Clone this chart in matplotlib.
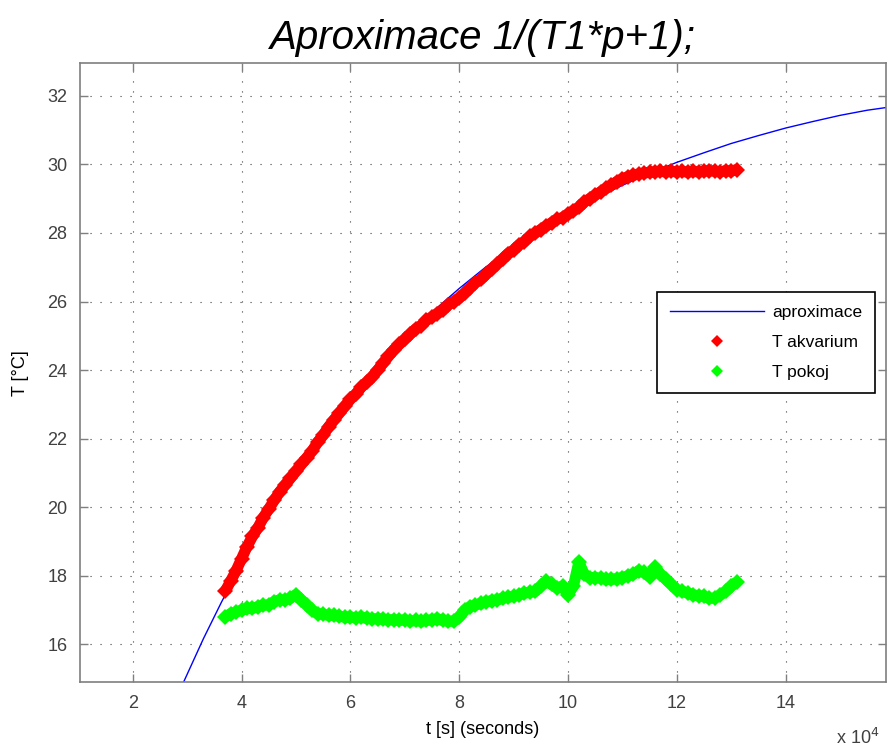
import matplotlib
matplotlib.use("Agg")
import matplotlib.pyplot as plt
from matplotlib.lines import Line2D

plt.rcParams['font.family'] = ['Liberation Sans', 'DejaVu Sans']

# time axis values are in units of 1e4 s
t_aprox = [2.9, 3.3, 3.63, 4.0, 4.5, 5.0, 5.5, 6.0, 6.5, 7.0, 7.5, 8.0, 8.5, 9.0,
           9.5, 10.0, 10.5, 11.0, 11.5, 12.0, 12.5, 13.0, 13.5, 14.0, 14.5, 15.0,
           15.5, 15.9]
T_aprox = [14.78, 16.17, 17.23, 18.35, 19.73, 20.98, 22.11, 23.14, 24.08, 24.92,
           25.69, 26.38, 27.02, 27.59, 28.11, 28.58, 29.00, 29.39, 29.74, 30.06,
           30.34, 30.61, 30.84, 31.06, 31.25, 31.43, 31.58, 31.67]

t_meas = [3.7, 3.8, 3.9, 4.0, 4.1, 4.2, 4.3, 4.4, 4.5, 4.6, 4.7, 4.8, 4.9, 5.0,
          5.1, 5.2, 5.3, 5.4, 5.5, 5.6, 5.7, 5.8, 5.9, 6.0, 6.1, 6.2, 6.3, 6.4,
          6.5, 6.6, 6.7, 6.8, 6.9, 7.0, 7.1, 7.2, 7.3, 7.4, 7.5, 7.6, 7.7, 7.8,
          7.9, 8.0, 8.1, 8.2, 8.3, 8.4, 8.5, 8.6, 8.7, 8.8, 8.9, 9.0, 9.1, 9.2,
          9.3, 9.4, 9.5, 9.6, 9.7, 9.8, 9.9, 10.0, 10.1, 10.2, 10.3, 10.4, 10.5,
          10.6, 10.7, 10.8, 10.9, 11.0, 11.1, 11.2, 11.3, 11.4, 11.5, 11.6, 11.7,
          11.8, 11.9, 12.0, 12.1, 12.2, 12.3, 12.4, 12.5, 12.6, 12.7, 12.8, 12.9,
          13.0, 13.1]

T_akvarium = [17.55, 17.85, 18.15, 18.5, 18.85, 19.15, 19.4, 19.7, 19.95, 20.2,
              20.45, 20.65, 20.85, 21.05, 21.25, 21.45, 21.65, 21.9, 22.1, 22.35,
              22.55, 22.75, 22.95, 23.15, 23.3, 23.5, 23.65, 23.8, 24.0, 24.2,
              24.4, 24.6, 24.75, 24.9, 25.05, 25.2, 25.3, 25.45, 25.55, 25.65,
              25.75, 25.9, 26.0, 26.1, 26.25, 26.4, 26.55, 26.65, 26.8, 26.95,
              27.1, 27.25, 27.4, 27.5, 27.65, 27.75, 27.9, 28.0, 28.1, 28.2,
              28.3, 28.4, 28.45, 28.55, 28.65, 28.75, 28.9, 29.0, 29.1, 29.2,
              29.3, 29.4, 29.5, 29.58, 29.64, 29.68, 29.72, 29.75, 29.77, 29.78,
              29.8, 29.78, 29.8, 29.78, 29.8, 29.77, 29.8, 29.78, 29.8, 29.82,
              29.8, 29.78, 29.82, 29.8, 29.85]

T_pokoj = [16.8, 16.9, 16.95, 17.0, 17.05, 17.05, 17.1, 17.15, 17.15, 17.25,
           17.3, 17.3, 17.35, 17.45, 17.3, 17.15, 17.0, 16.9, 16.88, 16.85,
           16.85, 16.82, 16.8, 16.8, 16.78, 16.8, 16.76, 16.75, 16.75, 16.74,
           16.72, 16.72, 16.7, 16.72, 16.68, 16.7, 16.68, 16.7, 16.72, 16.75,
           16.7, 16.68, 16.68, 16.8, 17.0, 17.1, 17.15, 17.2, 17.25, 17.28,
           17.3, 17.35, 17.38, 17.4, 17.45, 17.5, 17.52, 17.55, 17.7, 17.85,
           17.75, 17.65, 17.7, 17.45, 17.7, 18.4, 18.05, 17.95, 17.95, 17.93,
           17.9, 17.9, 17.92, 17.95, 18.0, 18.05, 18.15, 18.1, 17.98, 18.25,
           18.05, 17.9, 17.75, 17.6, 17.55, 17.5, 17.45, 17.42, 17.4, 17.35,
           17.35, 17.45, 17.55, 17.7, 17.82]

xticks = [2, 4, 6, 8, 10, 12, 14]
yticks = [16, 18, 20, 22, 24, 26, 28, 30, 32]

fig = plt.figure(figsize=(8.88, 7.53), dpi=100)
ax = fig.add_axes([0.090, 0.094, 0.908, 0.822])

ax.plot(t_aprox, T_aprox, color='#0000ff', lw=1.0)
# thick line under the markers keeps the band continuous
ax.plot(t_meas, T_akvarium, color='#ff0000', lw=8, solid_capstyle='butt')
ax.plot(t_meas, T_akvarium, 'D', color='#ff0000', ms=8, mew=0)
ax.plot(t_meas, T_pokoj, color='#00ff00', lw=8, solid_capstyle='butt')
ax.plot(t_meas, T_pokoj, 'D', color='#00ff00', ms=8, mew=0)

ax.set_xlim(1.03, 15.85)
ax.set_ylim(14.9, 32.95)
ax.set_xticks(xticks)
ax.set_yticks(yticks)
ax.grid(True, color='#404040', linestyle=(0, (1, 8)), lw=0.8)
ax.tick_params(direction='in', length=6, width=1, color='#7f7f7f',
               labelcolor='#404040', labelsize=13, top=True, right=True, pad=9)
for s in ax.spines.values():
    s.set_color('#7f7f7f')
    s.set_linewidth(1.2)

ax.set_title('Aproximace 1/(T1*p+1);', fontsize=29, style='italic', pad=10)
ax.set_xlabel('t [s] (seconds)', fontsize=13, labelpad=7)
ax.set_ylabel('T [°C]', fontsize=13, labelpad=13)
fig.text(0.942, 0.012, r'x 10$^{4}$', fontsize=13, color='#404040')

handles = [Line2D([], [], color='#0000ff', lw=1.0),
           Line2D([], [], ls='none', marker='D', color='#ff0000', ms=6, mew=0),
           Line2D([], [], ls='none', marker='D', color='#00ff00', ms=6, mew=0)]
leg = ax.legend(handles, ['aproximace', 'T akvarium', 'T pokoj'],
                loc='upper right', bbox_to_anchor=(0.986, 0.630), fontsize=12.5,
                frameon=True, fancybox=False, framealpha=1, handlelength=5.4,
                borderpad=0.75, labelspacing=0.85, handletextpad=0.45,
                borderaxespad=0)
leg.get_frame().set_edgecolor('black')
leg.get_frame().set_linewidth(1.2)

fig.savefig('out.png', dpi=100)
